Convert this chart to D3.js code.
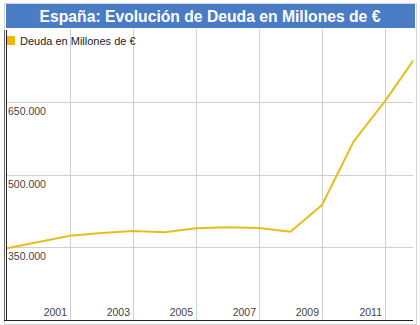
<!DOCTYPE html>
<html><head><meta charset="utf-8">
<script src="https://cdn.jsdelivr.net/npm/d3@7/dist/d3.min.js"></script>
<style>html,body{margin:0;padding:0;background:#fff;}svg{display:block;font-family:"Liberation Sans",Arial,sans-serif;}</style>
</head><body><svg id="c" width="420" height="325"></svg>
<script>
const title = "España: Evolución de Deuda en Millones de €";
const seriesName = "Deuda en Millones de €";
const years = [1999,2000,2001,2002,2003,2004,2005,2006,2007,2008,2009,2010,2011,2012];
const debt = [348000,361000,374000,379500,383700,381000,389300,391400,390000,382300,437500,568500,652500,746000];
const xTicks = [2001,2003,2005,2007,2009,2011];
const yTicks = [350000,500000,650000];
const yTickLabels = ["350.000","500.000","650.000"];

const svg = d3.select("#c");
const plot = {left:6, right:413, top:29, bottom:320};
const x = d3.scaleLinear().domain([1999,2012]).range([7,416.5]);
const y = d3.scaleLinear().domain([200000,800000]).range([319.8,29.8]);

svg.append("rect").attr("x",4.5).attr("y",3.5).attr("width",412).attr("height",321)
  .attr("fill","#fff").attr("stroke","#d4d4d4");

// title bar
svg.append("rect").attr("x",6).attr("y",4).attr("width",409).attr("height",24).attr("fill","#4A7CC6");
svg.append("text").attr("x",210).attr("y",22).attr("text-anchor","middle")
  .attr("fill","#fff").attr("font-weight","bold").attr("font-size","15.7px").text(title);

// gridlines
const g = svg.append("g");
g.selectAll(".vg").data(xTicks).enter().append("line")
  .attr("x1",d=>Math.round(x(d))+0.5).attr("x2",d=>Math.round(x(d))+0.5)
  .attr("y1",plot.top).attr("y2",plot.bottom).attr("stroke","#cfcfcf");
g.selectAll(".hg").data(yTicks).enter().append("line")
  .attr("x1",plot.left).attr("x2",plot.right)
  .attr("y1",d=>Math.round(y(d))+0.5).attr("y2",d=>Math.round(y(d))+0.5).attr("stroke","#cfcfcf");

// legend
svg.append("rect").attr("x",6).attr("y",36).attr("width",9).attr("height",9).attr("fill","#F2B705");
svg.append("text").attr("x",20).attr("y",45).attr("font-size","11px").attr("fill","#222").text(seriesName);

// y labels
svg.selectAll(".yl").data(yTicks).enter().append("text")
  .attr("x",8).attr("y",d=>y(d)+13).attr("font-size","10.5px").attr("fill","#444")
  .text((d,i)=>yTickLabels[i]);

// x labels
svg.selectAll(".xl").data(xTicks).enter().append("text")
  .attr("x",d=>Math.round(x(d))-3).attr("y",316).attr("text-anchor","end")
  .attr("font-size","10.5px").attr("fill","#444").text(d=>d);

// line
svg.append("clipPath").attr("id","clip").append("rect")
  .attr("x",plot.left).attr("y",plot.top).attr("width",plot.right-plot.left).attr("height",plot.bottom-plot.top);
const line = d3.line().x((d,i)=>x(years[i])).y(d=>y(d));
svg.append("path").datum(debt).attr("clip-path","url(#clip)")
  .attr("d",line).attr("fill","none").attr("stroke","#E9BC1B").attr("stroke-width",2).attr("stroke-linejoin","round");

// axes
svg.append("line").attr("x1",4.5).attr("x2",4.5).attr("y1",30).attr("y2",321).attr("stroke","#666");
svg.append("line").attr("x1",6.5).attr("x2",6.5).attr("y1",30).attr("y2",321).attr("stroke","#222");
svg.append("line").attr("x1",4).attr("x2",413).attr("y1",320.5).attr("y2",320.5).attr("stroke","#222");
</script></body></html>
